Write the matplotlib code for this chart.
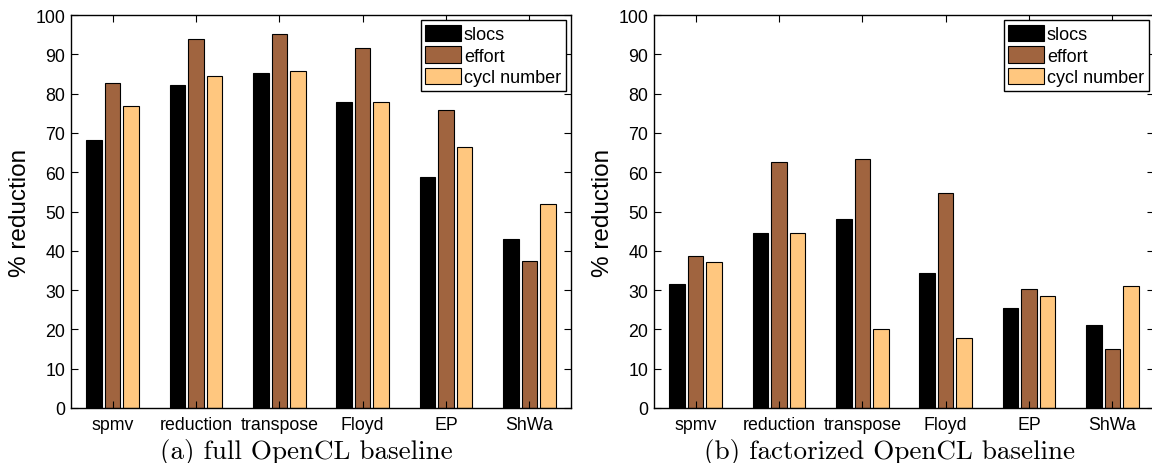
import numpy as np
import matplotlib
matplotlib.use('Agg')
import matplotlib.pyplot as plt

# benchmarks and the three metrics
benchmarks = ['spmv', 'reduction', 'transpose', 'Floyd', 'EP', 'ShWa']
metrics = ['slocs', 'effort', 'cycl number']

# % reduction against the full OpenCL baseline
full_slocs = [68.3, 82.2, 85.3, 77.9, 58.9, 43.1]
full_effort = [82.6, 93.8, 95.1, 91.7, 75.7, 37.3]
full_cycl = [76.8, 84.4, 85.8, 77.8, 66.4, 52.0]

# % reduction against the factorized OpenCL baseline
fact_slocs = [31.5, 44.6, 48.2, 34.3, 25.4, 21.2]
fact_effort = [38.7, 62.7, 63.3, 54.6, 30.2, 15.1]
fact_cycl = [37.1, 44.5, 20.0, 17.7, 28.6, 31.1]

captions = ['(a) full OpenCL baseline', '(b) factorized OpenCL baseline']

# copper colormap, 3 levels
colors = ['#000000', '#A0643F', '#FFC77F']

plt.rcParams['font.family'] = ['Liberation Sans', 'DejaVu Sans']

fig = plt.figure(figsize=(11.52, 4.64), dpi=100)
W, H = 1152, 464
ax1 = fig.add_axes([71 / W, (H - 409) / H, 500 / W, 393 / H])
ax2 = fig.add_axes([654 / W, (H - 409) / H, 500 / W, 393 / H])

x = np.arange(1, len(benchmarks) + 1)
step = 0.222
width = 0.185

panels = [
    (ax1, [full_slocs, full_effort, full_cycl], captions[0]),
    (ax2, [fact_slocs, fact_effort, fact_cycl], captions[1]),
]

for ax, series, cap in panels:
    for i, (vals, c, name) in enumerate(zip(series, colors, metrics)):
        ax.bar(x + (i - 1) * step, vals, width, color=c, edgecolor='black',
               linewidth=0.8, label=name)
    ax.set_xlim(0.5, 6.5)
    ax.set_ylim(0, 100)
    ax.set_yticks(np.arange(0, 101, 10))
    ax.set_xticks(x)
    ax.set_xticklabels(benchmarks)
    ax.tick_params(direction='in', top=True, right=True, length=5,
                   width=0.8, labelsize=12.8)
    ax.tick_params(axis='x', pad=6)
    ax.tick_params(axis='y', pad=4)
    for s in ax.spines.values():
        s.set_linewidth(1.0)
    ax.set_ylabel('% reduction', fontsize=17.5, labelpad=3)
    # caption sits a little left of the axes centre
    ax.set_xlabel(cap, family='cmr10', fontsize=19.5)
    ax.xaxis.set_label_coords(0.47, -0.077)
    leg = ax.legend(loc='upper right', fontsize=13, frameon=True,
                    fancybox=False, edgecolor='black', framealpha=1,
                    handlelength=2.0, handleheight=1.0, handletextpad=0.15,
                    labelspacing=0.18, borderpad=0.25, borderaxespad=0.3)
    leg.get_frame().set_linewidth(1.0)

fig.savefig('out.png', dpi=100)
